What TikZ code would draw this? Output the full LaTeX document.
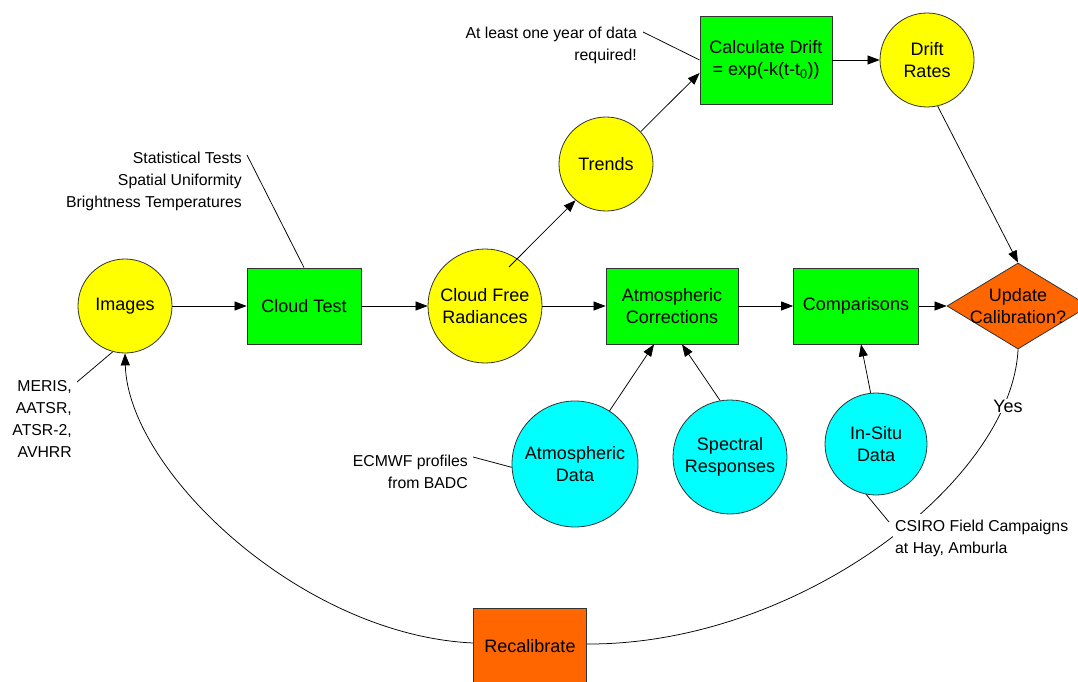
\documentclass[tikz,border=0pt]{standalone}
\usepackage{fontspec}
\setmainfont{Liberation Sans}
\usetikzlibrary{arrows.meta,shapes.geometric}
\definecolor{procyellow}{HTML}{FFFF00}
\definecolor{procgreen}{HTML}{00FF00}
\definecolor{proccyan}{HTML}{00FFFF}
\definecolor{procorange}{HTML}{FF6600}
\begin{document}
\begin{tikzpicture}[x=1pt,y=-1pt,
  every node/.style={font=\fontsize{18}{22}\selectfont, text=black},
  outline/.style={draw=black!80, line width=0.8pt},
  roundnode/.style={outline, circle, inner sep=0pt, align=center},
  boxnode/.style={outline, rectangle, inner sep=0pt, align=center, minimum height=76pt},
  note/.style={font=\fontsize{15.8}{22}\selectfont, inner sep=0pt},
  link/.style={line width=0.75pt, draw=black},
  arrow/.style={link, -{Triangle[length=12pt,width=9pt]}},
]
\clip (0,0) rectangle (1078,682);

% process chain
\node[roundnode, fill=procyellow, minimum size=94pt] (img) at (125,306) {Images};
\node[boxnode, fill=procgreen, minimum width=114pt] (ct) at (304,306) {Cloud Test};
\node[roundnode, fill=procyellow, minimum size=114pt] (cfr) at (485,306) {Cloud Free\\Radiances};
\node[roundnode, fill=procyellow, minimum size=94pt] (trd) at (606,164) {Trends};
\node[boxnode, fill=procgreen, minimum width=132pt, minimum height=88pt] (cdr) at (766,60) {Calculate Drift\\= exp(-k(t-t\textsubscript{0}))};
\node[roundnode, fill=procyellow, minimum size=94pt] (drr) at (927,60) {Drift\\Rates};
\node[boxnode, fill=procgreen, minimum width=132pt] (acr) at (672,306) {Atmospheric\\Corrections};
\node[boxnode, fill=procgreen, minimum width=125pt] (cmp) at (856,306) {Comparisons};
\node[outline, diamond, fill=procorange, minimum width=142pt, minimum height=86pt, inner sep=0pt] (upd) at (1018,306) {};
\node[align=center] (updtext) at (upd) {Update\\Calibration?};

% auxiliary inputs
\node[roundnode, fill=proccyan, minimum size=126pt] (atd) at (575,464) {Atmospheric\\Data};
\node[roundnode, fill=proccyan, minimum size=114pt] (spr) at (730,457) {Spectral\\Responses};
\node[roundnode, fill=proccyan, minimum size=102pt] (ins) at (876,444) {In-Situ\\Data};
\node[boxnode, fill=procorange, minimum width=113pt] (rec) at (530,646) {Recalibrate};

% flow connectors
\draw[arrow] (img) -- (ct);
\draw[arrow] (ct) -- (cfr);
\draw[arrow] (cfr) -- (acr);
\draw[arrow] ([shift={(24,-39)}]cfr.center) -- (trd.230);
\draw[arrow] (trd.43) -- ([yshift=-13pt]cdr.west);
\draw[arrow] (cdr) -- (drr);
\draw[arrow] (drr.283) -- (upd.north);
\draw[arrow] (acr) -- (cmp);
\draw[arrow] (cmp) -- (upd);
\draw[arrow] (atd.57) -- ([xshift=-18pt]acr.south);
\draw[arrow] (spr.100) -- ([xshift=10pt]acr.south);
\draw[arrow] (ins.96) -- ([xshift=5pt]cmp.south);

% feedback loop
\draw[arrow] ([yshift=3pt]rec.west) .. controls (300,635) and (128,470) .. (img.south);
\draw[link] (upd.south) .. controls (1012,480) and (800,645) .. ([yshift=2pt]rec.east);
\node[fill=white, inner sep=1pt] (yes) at (1008,406) {Yes};

% annotations
\node[note, align=right, anchor=east] (n1) at (637,45) {At least one year of data\\required!};
\coordinate (n1tip) at (643,32);
\draw[link] (n1tip) -- (cdr.west);

\node[note, align=right, anchor=east] (n2) at (242,181) {Statistical Tests\\Spatial Uniformity\\Brightness Temperatures};
\coordinate (n2tip) at (247,155);
\draw[link] (n2tip) -- (ct.north);

\node[note, align=right, anchor=east] (n3) at (72,419) {MERIS,\\AATSR,\\ATSR-2,\\AVHRR};
\coordinate (n3tip) at (77,382);
\draw[link] (n3tip) -- (img.255);

\node[note, align=right, anchor=east] (n4) at (468,472) {ECMWF profiles\\from BADC};
\coordinate (n4tip) at (473,457);
\draw[link] (n4tip) -- (atd.183);

\node[note, align=left, anchor=north west, fill=white, inner xsep=2pt, inner ysep=6pt] (n5) at (893,514) {CSIRO Field Campaigns\\at Hay, Amburla};
\coordinate (n5tip) at (889,522);
\draw[link] (ins.259) -- (n5tip);
\end{tikzpicture}
\end{document}
